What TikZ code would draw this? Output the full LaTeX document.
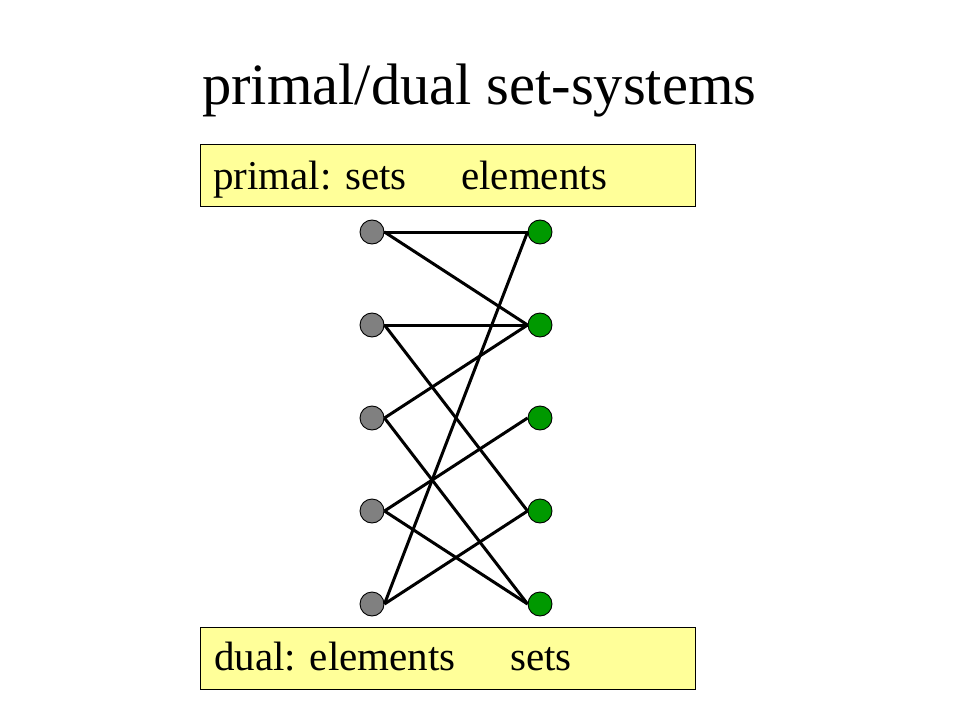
\documentclass[tikz,border=0pt]{standalone}
\usepackage{fontspec}
\setmainfont{Liberation Serif}
\definecolor{boxyellow}{RGB}{255,255,153}
\definecolor{setgray}{RGB}{128,128,128}
\definecolor{elemgreen}{RGB}{0,153,0}
\begin{document}
\begin{tikzpicture}[x=1bp,y=-1bp]
\tikzstyle{every node}+=[inner sep=0pt]
\tikzstyle{labelbox}=[draw=black,line width=1.3bp,fill=boxyellow,minimum width=495bp,minimum height=62bp,anchor=north west]
\tikzstyle{boxtext}=[anchor=base west,font=\fontsize{41bp}{49bp}\selectfont]
\tikzstyle{setnode}=[circle,draw=black,line width=0.9bp,fill=setgray,minimum size=24bp]
\tikzstyle{elemnode}=[circle,draw=black,line width=0.9bp,fill=elemgreen,minimum size=24bp]
\tikzstyle{edge}=[black,line width=3bp]
\useasboundingbox (0,0) rectangle (960,720);
\node[anchor=base west,font=\fontsize{58.5bp}{70bp}\selectfont] (title) at (202,105) {primal/dual set-systems};
\node[labelbox] (primal) at (200,144) {};
\node[boxtext] (primalsets) at (213,190) {primal: sets};
\node[boxtext] (primalelems) at (461,190) {elements};
\node[labelbox] (dual) at (200,627) {};
\node[boxtext] (dualelems) at (214,670) {dual: elements};
\node[boxtext] (dualsets) at (510,670) {sets};
\node[setnode] (s1) at (372,232) {};
\node[setnode] (s2) at (372,325) {};
\node[setnode] (s3) at (372,418) {};
\node[setnode] (s4) at (372,511) {};
\node[setnode] (s5) at (372,604) {};
\node[elemnode] (e1) at (540,232) {};
\node[elemnode] (e2) at (540,325) {};
\node[elemnode] (e3) at (540,418) {};
\node[elemnode] (e4) at (540,511) {};
\node[elemnode] (e5) at (540,604) {};
\draw [edge] (s1.east) -- (e1.west);
\draw [edge] (s1.east) -- (e2.west);
\draw [edge] (s2.east) -- (e2.west);
\draw [edge] (s2.east) -- (e4.west);
\draw [edge] (s3.east) -- (e2.west);
\draw [edge] (s3.east) -- (e5.west);
\draw [edge] (s4.east) -- (e3.west);
\draw [edge] (s4.east) -- (e5.west);
\draw [edge] (s5.east) -- (e1.west);
\draw [edge] (s5.east) -- (e4.west);
\end{tikzpicture}
\end{document}
